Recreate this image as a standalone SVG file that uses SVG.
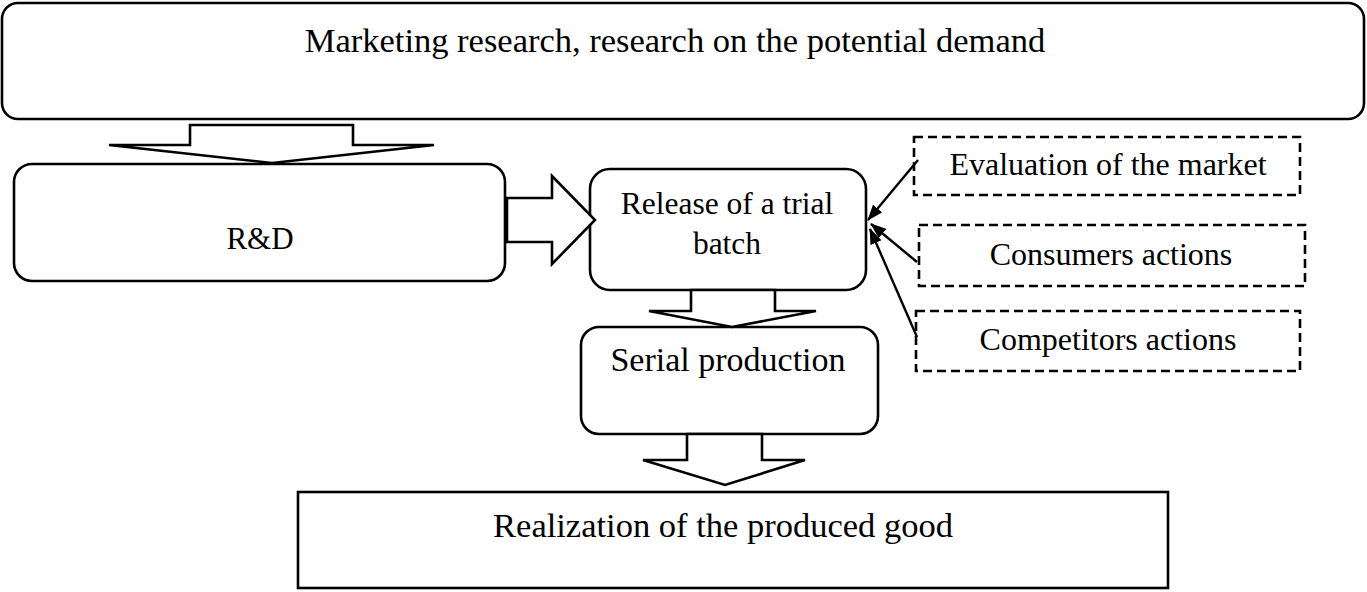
<svg xmlns="http://www.w3.org/2000/svg" width="1367" height="592" viewBox="0 0 1367 592">
<style>
.box{fill:#fff;stroke:#000;stroke-width:2.6}
.dash{fill:#fff;stroke:#000;stroke-width:2.6;stroke-dasharray:9 5}
.blk{fill:#fff;stroke:#000;stroke-width:2.6;stroke-linejoin:miter}
.t{font-family:"Liberation Serif","Times New Roman",serif;fill:#000;text-anchor:middle}
.con{stroke:#000;stroke-width:2.4;fill:none}
</style>
<defs>
<marker id="ah" viewBox="0 0 16 12" refX="15" refY="6" markerWidth="16" markerHeight="12" markerUnits="userSpaceOnUse" orient="auto">
<path d="M0,0 L16,6 L0,12 z" fill="#000"/>
</marker>
</defs>
<rect width="1367" height="592" fill="#fff"/>
<g id="market">
<rect class="box" x="2" y="3" width="1362" height="116" rx="16"/>
<text class="t" x="675" y="52" font-size="34.5">Marketing research, research on the potential demand</text>
</g>
<g id="rd">
<rect class="box" x="14" y="164" width="491" height="117" rx="18"/>
<text class="t" x="260" y="249" font-size="31">R&amp;D</text>
</g>
<g id="release">
<rect class="box" x="590" y="169" width="276" height="121" rx="20"/>
<text class="t" x="727" y="214" font-size="31.5">Release of a trial</text>
<text class="t" x="727" y="254" font-size="31.5">batch</text>
</g>
<g id="serial">
<rect class="box" x="581" y="327" width="297" height="107" rx="18"/>
<text class="t" x="728" y="371" font-size="34">Serial production</text>
</g>
<g id="realization">
<rect class="box" x="298" y="492" width="870" height="96"/>
<text class="t" x="723" y="537" font-size="34.5">Realization of the produced good</text>
</g>
<g id="evaluation">
<rect class="dash" x="914" y="137" width="386" height="58"/>
<text class="t" x="1108" y="175" font-size="32">Evaluation of the market</text>
</g>
<g id="consumers">
<rect class="dash" x="919" y="225" width="386" height="61"/>
<text class="t" x="1111" y="265" font-size="32">Consumers actions</text>
</g>
<g id="competitors">
<rect class="dash" x="916" y="311" width="384" height="60"/>
<text class="t" x="1108" y="350" font-size="32">Competitors actions</text>
</g>
<g id="connectors">
<polygon class="blk" points="190,125 353,125 353,145 434,145 272,163 109,145 190,145"/>
<polygon class="blk" points="507,198 552,198 552,176 595,220 552,264 552,242 507,242"/>
<polygon class="blk" points="691,290 775,290 775,311 816,311 732,327 649,311 691,311"/>
<polygon class="blk" points="687,434 762,434 762,460 805,460 725,485 643,460 687,460"/>
<line class="con" x1="918" y1="160" x2="868" y2="220" marker-end="url(#ah)"/>
<line class="con" x1="917" y1="262" x2="871" y2="224" marker-end="url(#ah)"/>
<line class="con" x1="917" y1="337" x2="870" y2="229" marker-end="url(#ah)"/>
</g>
</svg>
